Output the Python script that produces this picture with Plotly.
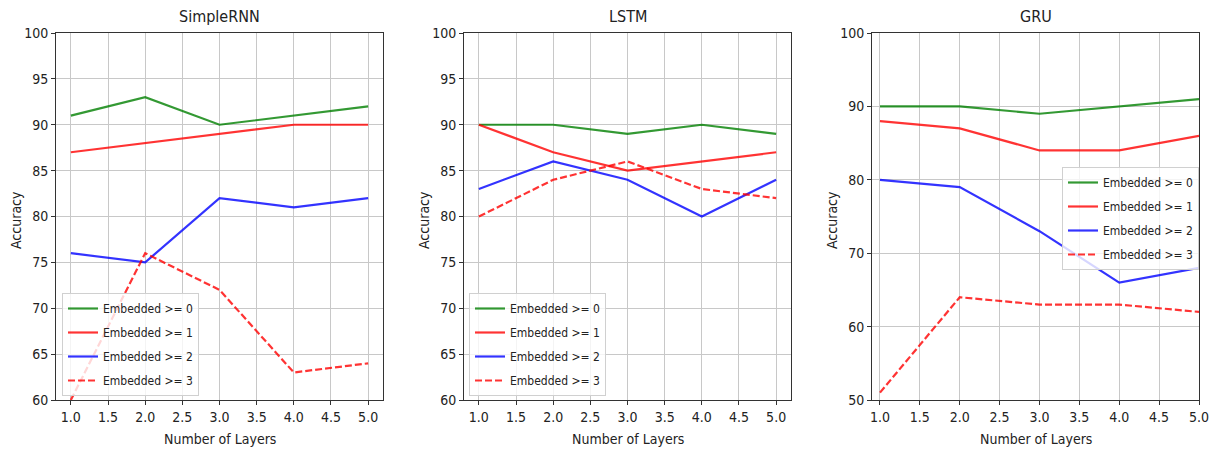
import plotly.graph_objects as go

layers = [1.0, 2.0, 3.0, 4.0, 5.0]
series_names = ["Embedded >= 0", "Embedded >= 1", "Embedded >= 2", "Embedded >= 3"]
panel_titles = ["SimpleRNN", "LSTM", "GRU"]

rnn_e0 = [91, 93, 90, 91, 92]
rnn_e1 = [87, 88, 89, 90, 90]
rnn_e2 = [76, 75, 82, 81, 82]
rnn_e3 = [60, 76, 72, 63, 64]

lstm_e0 = [90, 90, 89, 90, 89]
lstm_e1 = [90, 87, 85, 86, 87]
lstm_e2 = [83, 86, 84, 80, 84]
lstm_e3 = [80, 84, 86, 83, 82]

gru_e0 = [90, 90, 89, 90, 91]
gru_e1 = [88, 87, 84, 84, 86]
gru_e2 = [80, 79, 73, 66, 68]
gru_e3 = [51, 64, 63, 63, 62]

panels = [
    [rnn_e0, rnn_e1, rnn_e2, rnn_e3],
    [lstm_e0, lstm_e1, lstm_e2, lstm_e3],
    [gru_e0, gru_e1, gru_e2, gru_e3],
]

W, H = 1214, 453
FONT = "DejaVu Sans Condensed, Liberation Sans Narrow, DejaVu Sans, sans-serif"
colors = ["rgba(0,128,0,0.8)", "rgba(255,0,0,0.8)", "rgba(0,0,255,0.8)", "rgba(255,0,0,0.8)"]
dashes = ["solid", "solid", "solid", "7px,3px"]

# pixel geometry of plot areas (left, right), top/bottom
px_x = [(56, 383), (464, 791), (872, 1199)]
top_px, bot_px = 33, 400
xranges = [[0.8, 5.2], [0.8, 5.2], [0.9, 5.0]]
yranges = [[60, 100], [60, 100], [50, 100]]
ydticks = [5, 5, 10]
legend_pos = [(62, 293), (469, 293), (1062, 167)]

fig = go.Figure()
layout = dict(
    width=W, height=H,
    margin=dict(l=0, r=0, t=0, b=0),
    paper_bgcolor="white", plot_bgcolor="white",
    font=dict(family=FONT, size=13, color="#222"),
    annotations=[],
)

for i, data in enumerate(panels):
    sfx = "" if i == 0 else str(i + 1)
    leg = "legend" + sfx
    for j, ys in enumerate(data):
        fig.add_trace(go.Scatter(
            x=layers, y=ys, mode="lines", name=series_names[j],
            line=dict(color=colors[j], width=2.2, dash=dashes[j]),
            xaxis="x" + sfx, yaxis="y" + sfx, legend=leg,
            legendgroup="g%d_%d" % (i, j),
        ))
    l, r = px_x[i]
    common = dict(showgrid=True, gridcolor="#c8c8c8", gridwidth=1,
                  showline=True, linecolor="#333", linewidth=1, mirror=True,
                  ticks="outside", ticklen=4, tickcolor="#333", zeroline=False,
                  automargin=False,
                  tickfont=dict(size=14, family=FONT, color="#222"))
    layout["xaxis" + sfx] = dict(
        domain=[l / W, r / W], range=xranges[i], anchor="y" + sfx,
        tickvals=[1.0, 1.5, 2.0, 2.5, 3.0, 3.5, 4.0, 4.5, 5.0], tickformat=".1f",
        **common)
    layout["yaxis" + sfx] = dict(
        domain=[(H - bot_px) / H, (H - top_px) / H], range=yranges[i], anchor="x" + sfx,
        dtick=ydticks[i], tick0=0,
        **common)
    lx, ly = legend_pos[i]
    layout[leg] = dict(
        x=lx / W, y=(H - ly) / H, xanchor="left", yanchor="top",
        xref="paper", yref="paper",
        bgcolor="rgba(255,255,255,0.8)", bordercolor="#d0d0d0", borderwidth=1,
        font=dict(size=12, family=FONT, color="#222"), itemwidth=30,
        tracegroupgap=5,
    )
    layout["annotations"].append(dict(
        text=panel_titles[i], x=(l + r) / 2 / W, y=(H - 17) / H,
        xref="paper", yref="paper", showarrow=False,
        xanchor="center", yanchor="middle", font=dict(size=16, family=FONT, color="#222")))
    layout["annotations"].append(dict(
        text="Number of Layers", x=(l + r) / 2 / W, y=(H - 439) / H,
        xref="paper", yref="paper", showarrow=False,
        xanchor="center", yanchor="middle", font=dict(size=14, family=FONT, color="#222")))
    layout["annotations"].append(dict(
        text="Accuracy", x=(l - 40) / W, y=(H - 220) / H, textangle=-90,
        xref="paper", yref="paper", showarrow=False,
        xanchor="center", yanchor="middle", font=dict(size=14, family=FONT, color="#222")))

fig.update_layout(**layout)
fig.write_html("out.html")
